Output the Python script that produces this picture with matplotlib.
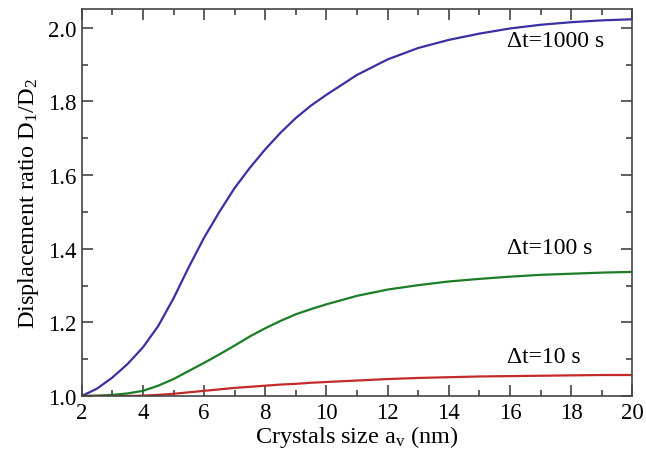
import matplotlib
matplotlib.use('Agg')
import matplotlib.pyplot as plt
from matplotlib.ticker import MultipleLocator

plt.rcParams['font.family'] = ['Liberation Serif', 'DejaVu Serif']
plt.rcParams['mathtext.fontset'] = 'custom'
plt.rcParams['mathtext.rm'] = 'Liberation Serif'
plt.rcParams['mathtext.it'] = 'Liberation Serif:italic'

# crystal size a_v (nm)
size = [2, 2.5, 3, 3.5, 4, 4.5, 5, 5.5, 6, 6.5, 7, 7.5, 8, 8.5, 9, 9.5, 10,
        11, 12, 13, 14, 15, 16, 17, 18, 19, 20]

# displacement ratio D1/D2 for each time step
ratio_1000 = [1.0, 1.02, 1.05, 1.087, 1.132, 1.19, 1.265, 1.35, 1.43, 1.50,
              1.565, 1.62, 1.67, 1.715, 1.755, 1.789, 1.818,
              1.872, 1.914, 1.945, 1.967, 1.984, 1.998, 2.008, 2.015, 2.020, 2.023]
ratio_100 = [1.0, 1.001, 1.003, 1.007, 1.014, 1.028, 1.046, 1.068, 1.09, 1.113,
             1.137, 1.162, 1.184, 1.204, 1.222, 1.236, 1.249,
             1.272, 1.289, 1.301, 1.311, 1.318, 1.324, 1.329, 1.332, 1.335, 1.337]
ratio_10 = [1.0, 1.0, 1.0, 1.0, 1.001, 1.003, 1.006, 1.010, 1.014, 1.018,
            1.022, 1.025, 1.028, 1.031, 1.033, 1.036, 1.038,
            1.042, 1.046, 1.049, 1.051, 1.053, 1.054, 1.055, 1.056, 1.057, 1.057]

labels = ['\u0394t=1000 s', '\u0394t=100 s', '\u0394t=10 s']
label_y = [1.965, 1.403, 1.107]

fig = plt.figure(figsize=(6.46, 4.52), dpi=100)
ax = fig.add_axes([0.1265, 0.1217, 0.8525, 0.8563])

ax.plot(size, ratio_1000, color='#3b30a3', lw=1.6)
ax.plot(size, ratio_100, color='#1b7d25', lw=1.6)
ax.plot(size, ratio_10, color='#c42a2a', lw=1.6)

for lab, yy in zip(labels, label_y):
    ax.text(15.9, yy, lab, fontsize=17, va='center', ha='left')

ax.set_xlim(2, 20)
ax.set_ylim(1.0, 2.051)
ax.xaxis.set_major_locator(MultipleLocator(2))
ax.xaxis.set_minor_locator(MultipleLocator(1))
ax.yaxis.set_major_locator(MultipleLocator(0.2))
ax.yaxis.set_minor_locator(MultipleLocator(0.1))
ax.tick_params(which='both', direction='in', top=True, right=True,
               labelsize=16.5, color='#333333')
ax.tick_params(which='major', length=8, width=1.1, pad=4)
ax.tick_params(which='minor', length=4.5, width=1.1)
for sp in ax.spines.values():
    sp.set_linewidth(1.2)
    sp.set_color('#444444')

ax.set_xlabel('Crystals size a$_\\mathregular{v}$ (nm)', fontsize=17.5, labelpad=0)
ax.set_ylabel('Displacement ratio D$_\\mathregular{1}$/D$_\\mathregular{2}$',
              fontsize=17.5, labelpad=5)

fig.savefig('out.png', dpi=100)
